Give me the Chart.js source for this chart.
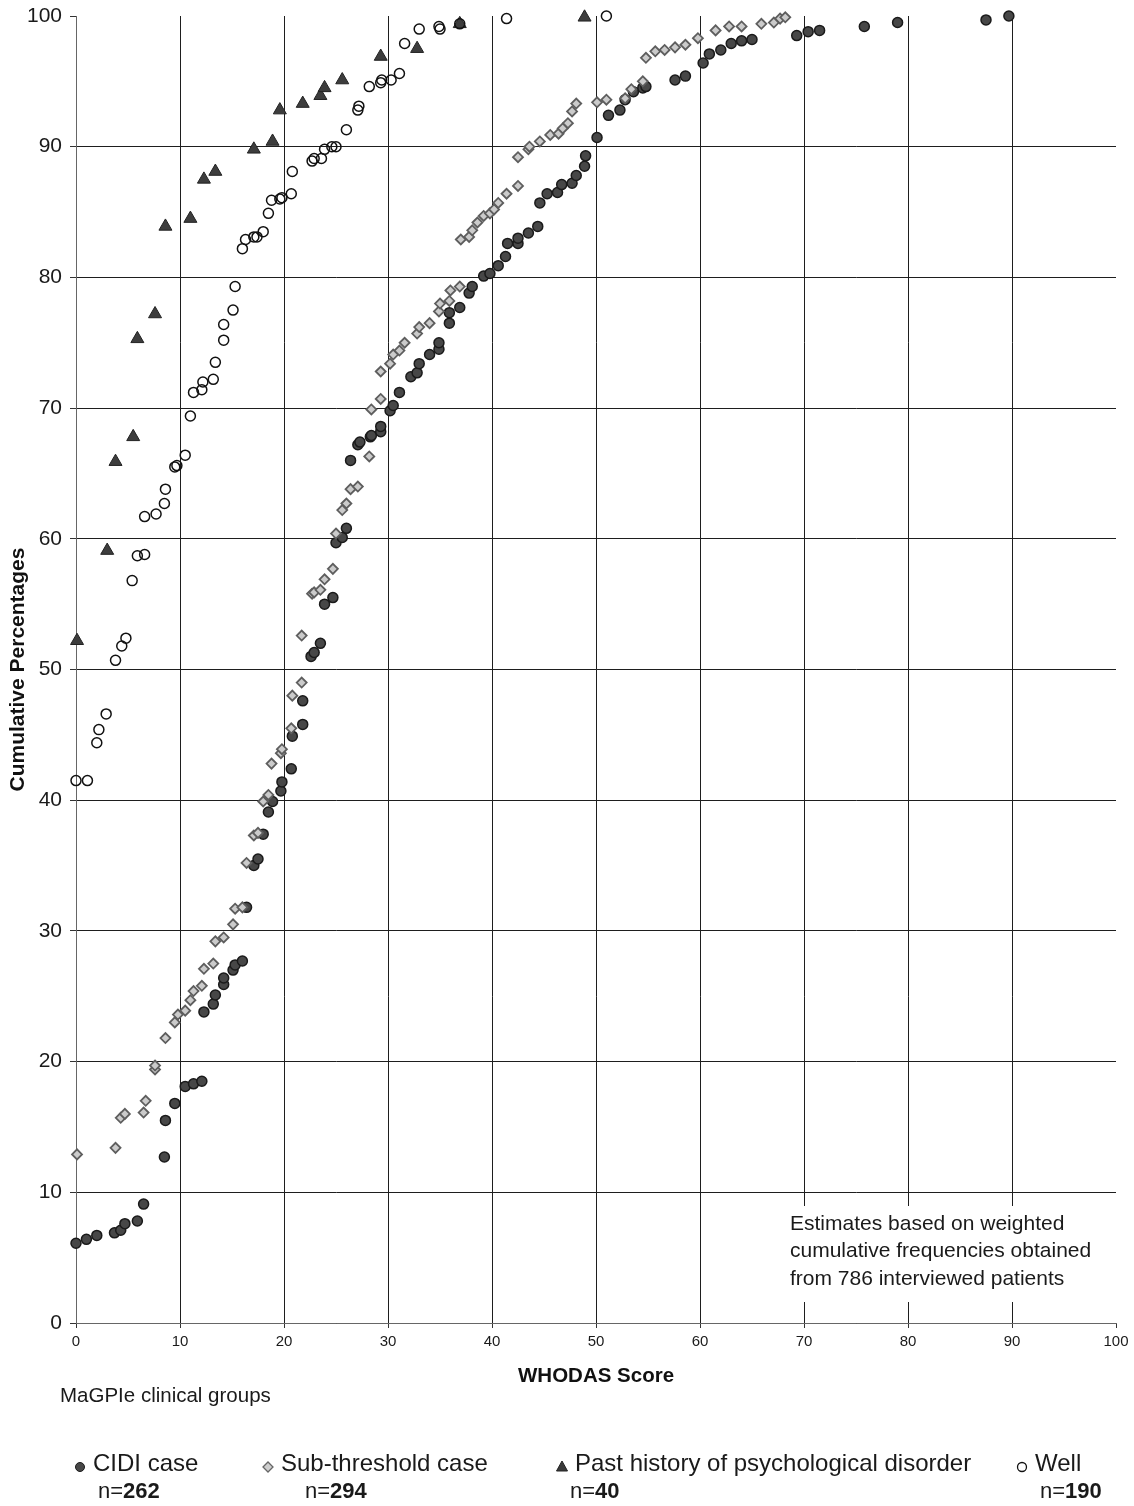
<!DOCTYPE html>
<html>
<head>
<meta charset="utf-8">
<script src="https://cdn.jsdelivr.net/npm/chart.js@4.4.1/dist/chart.umd.min.js"></script>
<style>
  body { margin: 0; background: #fff; }
  #wrap { position: relative; width: 1134px; height: 1506px; }
</style>
</head>
<body>
<div id="wrap"><canvas id="myChart"></canvas></div>
<script>
// axis ticks (both axes 0..100 by 10)
const tickValues = [0, 10, 20, 30, 40, 50, 60, 70, 80, 90, 100];

// series names and group sizes
const seriesNames = ['CIDI case', 'Sub-threshold case', 'Past history of psychological disorder', 'Well'];
const seriesN = ['262', '294', '40', '190'];

// CIDI case: WHODAS score / cumulative %
const cidiX = [0, 1.0, 2.0, 3.7, 4.3, 4.7, 5.9, 6.5, 8.5, 8.6, 9.5, 10.5, 11.3, 12.1, 12.3, 13.2, 13.4, 14.2, 14.2, 15.1,
  15.3, 16.0, 16.4, 17.1, 17.5, 18.0, 18.5, 18.9, 19.7, 19.8, 20.7, 20.8, 21.8, 21.8, 22.6, 22.9, 23.5, 23.9, 24.7, 25.0,
  25.6, 26.0, 26.4, 27.1, 27.3, 28.3, 28.4, 29.3, 29.3, 30.2, 30.5, 31.1, 32.2, 32.8, 33.0, 34.0, 34.9, 34.9, 35.9, 35.9,
  36.9, 37.8, 38.1, 39.2, 39.8, 40.6, 41.3, 41.5, 42.5, 42.5, 43.5, 44.4, 44.6, 45.3, 46.3, 46.7, 47.7, 48.1, 48.9, 49.0,
  50.1, 51.2, 52.3, 52.8, 53.6, 54.5, 54.8, 57.6, 58.6, 60.3, 60.9, 62.0, 63.0, 64.0, 65.0, 69.3, 70.4, 71.5, 75.8, 79.0,
  87.5, 89.7];
const cidiY = [6.1, 6.4, 6.7, 6.9, 7.1, 7.6, 7.8, 9.1, 12.7, 15.5, 16.8, 18.1, 18.3, 18.5, 23.8, 24.4, 25.1, 25.9, 26.4, 27.0,
  27.4, 27.7, 31.8, 35.0, 35.5, 37.4, 39.1, 39.9, 40.7, 41.4, 42.4, 44.9, 45.8, 47.6, 51.0, 51.3, 52.0, 55.0, 55.5, 59.7,
  60.1, 60.8, 66.0, 67.2, 67.4, 67.8, 67.9, 68.2, 68.6, 69.8, 70.2, 71.2, 72.4, 72.7, 73.4, 74.1, 74.5, 75.0, 76.5, 77.3,
  77.7, 78.8, 79.3, 80.1, 80.3, 80.9, 81.6, 82.6, 82.6, 83.0, 83.4, 83.9, 85.7, 86.4, 86.5, 87.1, 87.2, 87.8, 88.5, 89.3,
  90.7, 92.4, 92.8, 93.6, 94.2, 94.5, 94.6, 95.1, 95.4, 96.4, 97.1, 97.4, 97.9, 98.1, 98.2, 98.5, 98.8, 98.9, 99.2, 99.5,
  99.7, 100];

// Sub-threshold case
const subX = [0.1, 3.8, 4.3, 4.7, 6.5, 6.7, 7.6, 7.6, 8.6, 9.5, 9.8, 10.5, 11.0, 11.3, 12.1, 12.3, 13.2, 13.4, 14.2, 15.1,
  15.3, 16.0, 16.4, 17.1, 17.5, 18.0, 18.5, 18.8, 19.7, 19.8, 20.7, 20.8, 21.7, 21.7, 22.7, 22.9, 23.5, 23.9, 24.7, 25.0,
  25.6, 26.0, 26.4, 27.1, 28.2, 28.4, 29.3, 29.3, 30.2, 30.5, 31.1, 31.6, 32.8, 33.0, 34.0, 34.9, 35.0, 35.9, 36.0, 36.9,
  37.0, 37.8, 38.1, 38.6, 39.2, 39.8, 40.2, 40.6, 41.4, 42.5, 42.5, 43.5, 43.6, 44.6, 45.6, 46.4, 46.8, 47.3, 47.7, 48.1,
  50.1, 51.0, 52.8, 53.4, 54.5, 54.8, 55.7, 56.6, 57.6, 58.6, 59.8, 61.5, 62.8, 64.0, 65.9, 67.1, 67.7, 68.2];
const subY = [12.9, 13.4, 15.7, 16.0, 16.1, 17.0, 19.4, 19.7, 21.8, 23.0, 23.6, 23.9, 24.7, 25.4, 25.8, 27.1, 27.5, 29.2, 29.5, 30.5,
  31.7, 31.8, 35.2, 37.3, 37.5, 39.9, 40.4, 42.8, 43.6, 43.9, 45.5, 48.0, 49.0, 52.6, 55.8, 55.9, 56.1, 56.9, 57.7, 60.4,
  62.2, 62.7, 63.8, 64.0, 66.3, 69.9, 70.7, 72.8, 73.4, 74.1, 74.4, 75.0, 75.7, 76.2, 76.5, 77.4, 78.0, 78.2, 79.0, 79.3,
  82.9, 83.1, 83.6, 84.2, 84.7, 84.9, 85.2, 85.7, 86.4, 87.0, 89.2, 89.8, 90.0, 90.4, 90.9, 91.0, 91.4, 91.8, 92.7, 93.3,
  93.4, 93.6, 93.7, 94.4, 95.0, 96.8, 97.3, 97.4, 97.6, 97.8, 98.3, 98.9, 99.2, 99.2, 99.4, 99.5, 99.8, 99.9];

// Past history of psychological disorder
const pastX = [0.1, 3.0, 3.8, 5.5, 5.9, 7.6, 8.6, 11.0, 12.3, 13.4, 17.1, 18.9, 19.6, 21.8, 23.5, 23.9, 25.6, 29.3, 32.8, 36.9, 48.9];
const pastY = [52.2, 59.1, 65.9, 67.8, 75.3, 77.2, 83.9, 84.5, 87.5, 88.1, 89.8, 90.4, 92.8, 93.3, 93.9, 94.5, 95.1, 96.9, 97.5, 99.4, 99.9];

// Well
const wellX = [0, 1.1, 2.0, 2.2, 2.9, 3.8, 4.4, 4.8, 5.4, 5.9, 6.6, 6.6, 7.7, 8.5, 8.6, 9.5, 9.7, 10.5, 11.0, 11.3,
  12.1, 12.2, 13.2, 13.4, 14.2, 14.2, 15.1, 15.3, 16.0, 16.3, 17.1, 17.4, 18.0, 18.5, 18.8, 19.6, 19.8, 20.7, 20.8, 22.7,
  22.9, 23.6, 23.9, 24.6, 25.0, 26.0, 27.1, 27.2, 28.2, 29.3, 29.4, 30.3, 31.1, 31.6, 33.0, 34.9, 35.0, 36.9, 41.4, 51.0];
const wellY = [41.5, 41.5, 44.4, 45.4, 46.6, 50.7, 51.8, 52.4, 56.8, 58.7, 58.8, 61.7, 61.9, 62.7, 63.8, 65.5, 65.6, 66.4, 69.4, 71.2,
  71.4, 72.0, 72.2, 73.5, 75.2, 76.4, 77.5, 79.3, 82.2, 82.9, 83.1, 83.1, 83.5, 84.9, 85.9, 86.0, 86.1, 86.4, 88.1, 88.9,
  89.1, 89.1, 89.8, 90.0, 90.0, 91.3, 92.8, 93.1, 94.6, 94.9, 95.1, 95.1, 95.6, 97.9, 99.0, 99.2, 99.0, 99.4, 99.8, 100];

const noteLines = ['Estimates based on weighted', 'cumulative frequencies obtained', 'from 786 interviewed patients'];
const groupsLabel = 'MaGPIe clinical groups';

const FONT = "'Liberation Sans', Arial, Helvetica, sans-serif";

function toPoints(xs, ys) {
  return xs.map((x, i) => ({ x: x, y: ys[i] }));
}

// marker drawing for the custom legend
function drawMarker(ctx, kind, x, y) {
  ctx.beginPath();
  if (kind === 0) {
    ctx.arc(x, y, 4.5, 0, Math.PI * 2);
    ctx.fillStyle = '#474747'; ctx.fill();
    ctx.strokeStyle = '#1a1a1a'; ctx.lineWidth = 1; ctx.stroke();
  } else if (kind === 1) {
    ctx.moveTo(x - 5, y); ctx.lineTo(x, y - 5); ctx.lineTo(x + 5, y); ctx.lineTo(x, y + 5); ctx.closePath();
    ctx.fillStyle = '#cfcfcf'; ctx.fill();
    ctx.strokeStyle = '#666'; ctx.lineWidth = 1.3; ctx.stroke();
  } else if (kind === 2) {
    ctx.moveTo(x, y - 6); ctx.lineTo(x + 5.5, y + 4); ctx.lineTo(x - 5.5, y + 4); ctx.closePath();
    ctx.fillStyle = '#3a3a3a'; ctx.fill();
    ctx.strokeStyle = '#222'; ctx.lineWidth = 1; ctx.stroke();
  } else {
    ctx.arc(x, y, 4.5, 0, Math.PI * 2);
    ctx.strokeStyle = '#111'; ctx.lineWidth = 1.3; ctx.stroke();
  }
}

// white note box + text over the grid, and the legend below the chart
const notesPlugin = {
  id: 'notes',
  beforeDatasetsDraw(chart) {
    const { ctx, chartArea } = chart;
    ctx.save();
    ctx.fillStyle = '#fff';
    ctx.fillRect(786, 1206, chartArea.right - 786, 96);
    ctx.fillStyle = '#1a1a1a';
    ctx.font = '21px ' + FONT;
    ctx.textBaseline = 'middle';
    noteLines.forEach((t, i) => ctx.fillText(t, 790, 1224 + i * 27.5));
    ctx.restore();
  },
  afterDraw(chart) {
    const ctx = chart.ctx;
    ctx.save();
    ctx.fillStyle = '#1a1a1a';
    ctx.textBaseline = 'middle';
    ctx.font = '20.5px ' + FONT;
    ctx.fillText(groupsLabel, 60, 1396);

    const markerX = [80, 268, 562, 1022];
    const nX = [98, 305, 570, 1040];
    seriesNames.forEach((name, i) => {
      drawMarker(ctx, i, markerX[i], 1467);
      ctx.fillStyle = '#1a1a1a';
      ctx.font = '24px ' + FONT;
      ctx.fillText(name, markerX[i] + 13, 1464);
      ctx.font = '22px ' + FONT;
      ctx.fillText('n=', nX[i], 1492);
      const w = ctx.measureText('n=').width;
      ctx.font = 'bold 22px ' + FONT;
      ctx.fillText(seriesN[i], nX[i] + w, 1492);
    });
    ctx.restore();
  }
};

const gridColor = (c) => (c.tick && c.tick.value === 100) ? 'rgba(0,0,0,0)' : '#1e1e1e';

new Chart(document.getElementById('myChart'), {
  type: 'scatter',
  data: {
    datasets: [
      {
        label: seriesNames[0], data: toPoints(cidiX, cidiY), order: 3,
        pointStyle: 'circle', pointRadius: 5, pointBackgroundColor: '#474747',
        pointBorderColor: '#1a1a1a', pointBorderWidth: 1.5
      },
      {
        label: seriesNames[1], data: toPoints(subX, subY), order: 2,
        pointStyle: 'rectRot', pointRadius: 5, pointBackgroundColor: '#cbcbcb',
        pointBorderColor: '#5e5e5e', pointBorderWidth: 1.8
      },
      {
        label: seriesNames[2], data: toPoints(pastX, pastY), order: 1,
        pointStyle: 'triangle', pointRadius: 7.5, pointBackgroundColor: '#3d3d3d',
        pointBorderColor: '#222', pointBorderWidth: 1
      },
      {
        label: seriesNames[3], data: toPoints(wellX, wellY), order: 0,
        pointStyle: 'circle', pointRadius: 5, pointBackgroundColor: 'rgba(255,255,255,0)',
        pointBorderColor: '#111', pointBorderWidth: 1.5
      }
    ]
  },
  options: {
    responsive: true,
    maintainAspectRatio: false,
    animation: false,
    clip: false,
    layout: { padding: { top: 16, right: 18, bottom: 113, left: 0 } },
    plugins: {
      legend: { display: false },
      tooltip: { enabled: false }
    },
    scales: {
      x: {
        type: 'linear', min: 0, max: 100,
        afterBuildTicks: (s) => { s.ticks = tickValues.map(v => ({ value: v })); },
        afterFit: (s) => { s.height = 70; },
        grid: { color: gridColor, tickColor: '#333', tickLength: 5, lineWidth: 1 },
        border: { color: '#666', width: 1 },
        ticks: { font: { size: 15, family: FONT }, color: '#1a1a1a', padding: 5, maxRotation: 0 },
        title: {
          display: true, text: 'WHODAS Score', color: '#111',
          font: { size: 20.5, weight: 'bold', family: FONT }, padding: { top: 0, bottom: 4 }
        }
      },
      y: {
        type: 'linear', min: 0, max: 100,
        afterBuildTicks: (s) => { s.ticks = tickValues.map(v => ({ value: v })); },
        // fixed width, and no extra top/bottom room for the end labels
        afterFit: (s) => { s.width = 76; s.paddingTop = 0; s.paddingBottom = 0; },
        grid: { color: gridColor, tickColor: '#333', tickLength: 6, lineWidth: 1 },
        border: { color: '#666', width: 1 },
        ticks: { font: { size: 21, family: FONT }, color: '#1a1a1a', padding: 8 },
        title: {
          display: true, text: 'Cumulative Percentages', color: '#111',
          font: { size: 21, weight: 'bold', family: FONT }, padding: { top: 6, bottom: 0 }
        }
      }
    }
  },
  plugins: [notesPlugin]
});
</script>
</body>
</html>
